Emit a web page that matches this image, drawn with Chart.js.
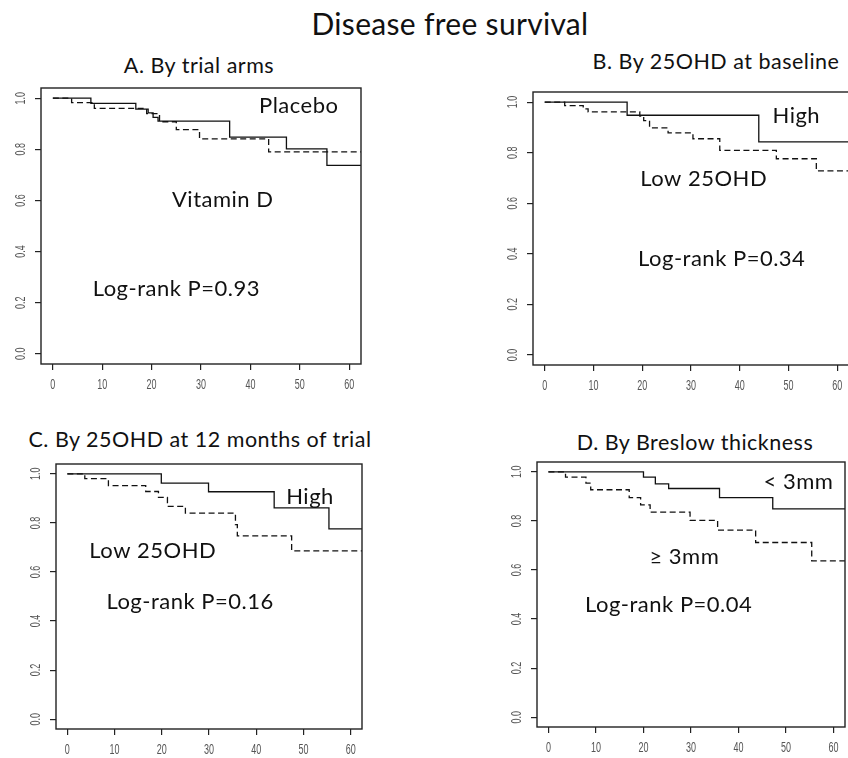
<!DOCTYPE html>
<html>
<head>
<meta charset="utf-8">
<title>Disease free survival</title>
<script src="https://cdn.jsdelivr.net/npm/chart.js@4.4.1/dist/chart.umd.min.js"></script>
<style>
  html, body { margin: 0; padding: 0; width: 848px; height: 758px; overflow: hidden; background: #fff; }
  .title { position: absolute; font-family: Lato, sans-serif; color: #111; white-space: nowrap;
           line-height: 1; transform: translateX(-50%); }
  .main { font-size: 30px; letter-spacing: 0.3px; left: 450px; top: 8px; }
  .sub { font-size: 21.5px; letter-spacing: 0.5px; }
  canvas { position: absolute; }
</style>
</head>
<body>
<div class="title main">Disease free survival</div>
<div class="title sub" style="left:199px; top:55px">A. By trial arms</div>
<div class="title sub" style="left:716px; top:51px">B. By 25OHD at baseline</div>
<div class="title sub" style="left:200px; top:429px">C. By 25OHD at 12 months of trial</div>
<div class="title sub" style="left:695px; top:432px">D. By Breslow thickness</div>
<canvas id="panelA"></canvas>
<canvas id="panelB"></canvas>
<canvas id="panelC"></canvas>
<canvas id="panelD"></canvas>
<script>
// axis ticks shared by all four panels (months / survival probability)
const xTicks = [0, 10, 20, 30, 40, 50, 60];
const yTicks = [0, 0.2, 0.4, 0.6, 0.8, 1.0];
const yTickLabels = ['0.0', '0.2', '0.4', '0.6', '0.8', '1.0'];
const followUpEnd = 63;

// A. By trial arms
const placeboTimes = [0, 7.7, 16.8, 19.3, 20.3, 21.3, 35.8, 47.3, 55.5];
const placeboSurv = [1, 0.98, 0.957, 0.943, 0.925, 0.91, 0.848, 0.802, 0.737];
const vitaminDTimes = [0, 3.8, 8.4, 19.0, 21.6, 25.0, 29.7, 43.7];
const vitaminDSurv = [1, 0.983, 0.96, 0.94, 0.908, 0.877, 0.841, 0.79];

// B. By 25OHD at baseline
const baseHighTimes = [0, 16.9, 43.9];
const baseHighSurv = [1, 0.948, 0.843];
const baseLowTimes = [0, 4.1, 7.9, 8.9, 19.5, 20.3, 21.5, 25.3, 30.4, 35.9, 47.5, 55.7];
const baseLowSurv = [1, 0.986, 0.973, 0.961, 0.945, 0.927, 0.898, 0.878, 0.855, 0.809, 0.776, 0.728];

// C. By 25OHD at 12 months of trial
const m12HighTimes = [0, 19.9, 29.9, 43.8, 55.4];
const m12HighSurv = [1, 0.962, 0.927, 0.861, 0.776];
const m12LowTimes = [0, 3.7, 8.7, 16.6, 19.3, 21.2, 25.0, 35.6, 36.0, 47.5];
const m12LowSurv = [1, 0.98, 0.952, 0.928, 0.904, 0.867, 0.84, 0.793, 0.747, 0.686];

// D. By Breslow thickness
const thinTimes = [0, 20.0, 22.5, 25.3, 36.0, 47.2];
const thinSurv = [1, 0.978, 0.951, 0.932, 0.895, 0.849];
const thickTimes = [0, 3.6, 7.9, 8.9, 17.0, 19.4, 21.4, 29.8, 35.6, 43.6, 55.4];
const thickSurv = [1, 0.978, 0.954, 0.927, 0.895, 0.865, 0.836, 0.802, 0.762, 0.712, 0.637];

const PAD_L = 46;
const PAD_T = 8;
const PAD_R = 9;
const PAD_B = 30;

/**
 * Turn event times and survival values into step points, held to the end of follow-up.
 */
function toSteps(times, surv) {
  const points = times.map((t, i) => ({ x: t, y: surv[i] }));
  points.push({ x: followUpEnd, y: surv[surv.length - 1] });
  return points;
}

function curve(times, surv, dashed) {
  return {
    data: toSteps(times, surv),
    stepped: 'before',
    borderColor: '#111',
    borderWidth: 1.3,
    borderDash: dashed ? [6, 3.5] : [],
    pointRadius: 0,
    fill: false,
  };
}

// R-style frame, narrow tick labels and the in-plot texts
const kmDecor = {
  id: 'kmDecor',
  afterDraw(chart, args, opts) {
    const { ctx, chartArea } = chart;
    const xs = chart.scales.x;
    const ys = chart.scales.y;
    ctx.save();
    ctx.strokeStyle = '#222';
    ctx.lineWidth = 1.4;
    ctx.strokeRect(chartArea.left, chartArea.top, chartArea.right - chartArea.left, chartArea.bottom - chartArea.top);

    ctx.fillStyle = '#555';
    ctx.font = '15px "Liberation Sans", Arial, sans-serif';
    ctx.textAlign = 'center';
    ctx.textBaseline = 'middle';
    xTicks.forEach((v) => {
      ctx.save();
      ctx.translate(xs.getPixelForValue(v), chartArea.bottom + 21);
      ctx.scale(0.6, 1);
      ctx.fillText(String(v), 0, 0);
      ctx.restore();
    });
    yTicks.forEach((v, i) => {
      ctx.save();
      ctx.translate(chartArea.left - 20, ys.getPixelForValue(v));
      ctx.rotate(-Math.PI / 2);
      ctx.scale(0.6, 1);
      ctx.fillText(yTickLabels[i], 0, 0);
      ctx.restore();
    });

    ctx.fillStyle = '#111';
    ctx.font = '22px Lato, sans-serif';
    ctx.letterSpacing = '0.5px';
    opts.notes.forEach((n) => {
      ctx.fillText(n.text, xs.getPixelForValue(n.x), ys.getPixelForValue(n.y));
    });
    ctx.restore();
  },
};

function drawPanel(id, box, series, notes) {
  const canvas = document.getElementById(id);
  const width = box.right - box.left + PAD_L + PAD_R;
  const height = box.bottom - box.top + PAD_T + PAD_B;
  canvas.style.left = (box.left - PAD_L) + 'px';
  canvas.style.top = (box.top - PAD_T) + 'px';
  canvas.width = width;
  canvas.height = height;
  canvas.style.width = width + 'px';
  canvas.style.height = height + 'px';

  const tickGrid = { drawOnChartArea: false, drawTicks: true, tickLength: 6, color: '#222', lineWidth: 1.2 };

  return new Chart(canvas, {
    type: 'line',
    data: { datasets: series },
    options: {
      responsive: false,
      animation: false,
      layout: { padding: { left: 0, top: PAD_T, right: PAD_R, bottom: 0 } },
      plugins: { legend: { display: false }, tooltip: { enabled: false }, kmDecor: { notes } },
      scales: {
        x: {
          type: 'linear',
          min: -2.4,
          max: 62.4,
          afterBuildTicks: (s) => { s.ticks = xTicks.map((v) => ({ value: v })); },
          afterFit: (s) => { s.height = PAD_B; },
          ticks: { display: false },
          grid: tickGrid,
          border: { display: false },
        },
        y: {
          type: 'linear',
          min: -0.04,
          max: 1.04,
          afterBuildTicks: (s) => { s.ticks = yTicks.map((v) => ({ value: v })); },
          afterFit: (s) => { s.width = PAD_L; },
          ticks: { display: false },
          grid: tickGrid,
          border: { display: false },
        },
      },
    },
    plugins: [kmDecor],
  });
}

drawPanel('panelA', { left: 41, top: 88, right: 361, bottom: 364 },
  [curve(placeboTimes, placeboSurv, false), curve(vitaminDTimes, vitaminDSurv, true)],
  [
    { text: 'Placebo', x: 49.8, y: 0.969 },
    { text: 'Vitamin D', x: 34.4, y: 0.604 },
    { text: 'Log-rank P=0.93', x: 25.0, y: 0.252 },
  ]);

drawPanel('panelB', { left: 533, top: 92, right: 849, bottom: 365 },
  [curve(baseHighTimes, baseHighSurv, false), curve(baseLowTimes, baseLowSurv, true)],
  [
    { text: 'High', x: 51.6, y: 0.947 },
    { text: 'Low 25OHD', x: 32.6, y: 0.696 },
    { text: 'Log-rank P=0.34', x: 36.3, y: 0.379 },
  ]);

drawPanel('panelC', { left: 56, top: 464, right: 362, bottom: 729 },
  [curve(m12HighTimes, m12HighSurv, false), curve(m12LowTimes, m12LowSurv, true)],
  [
    { text: 'High', x: 51.4, y: 0.907 },
    { text: 'Low 25OHD', x: 18.1, y: 0.687 },
    { text: 'Log-rank P=0.16', x: 26.0, y: 0.479 },
  ]);

drawPanel('panelD', { left: 537, top: 462, right: 845, bottom: 727 },
  [curve(thinTimes, thinSurv, false), curve(thickTimes, thickSurv, true)],
  [
    { text: '< 3mm', x: 52.6, y: 0.958 },
    { text: '\u2265 3mm', x: 28.6, y: 0.655 },
    { text: 'Log-rank P=0.04', x: 25.3, y: 0.458 },
  ]);
</script>
</body>
</html>
